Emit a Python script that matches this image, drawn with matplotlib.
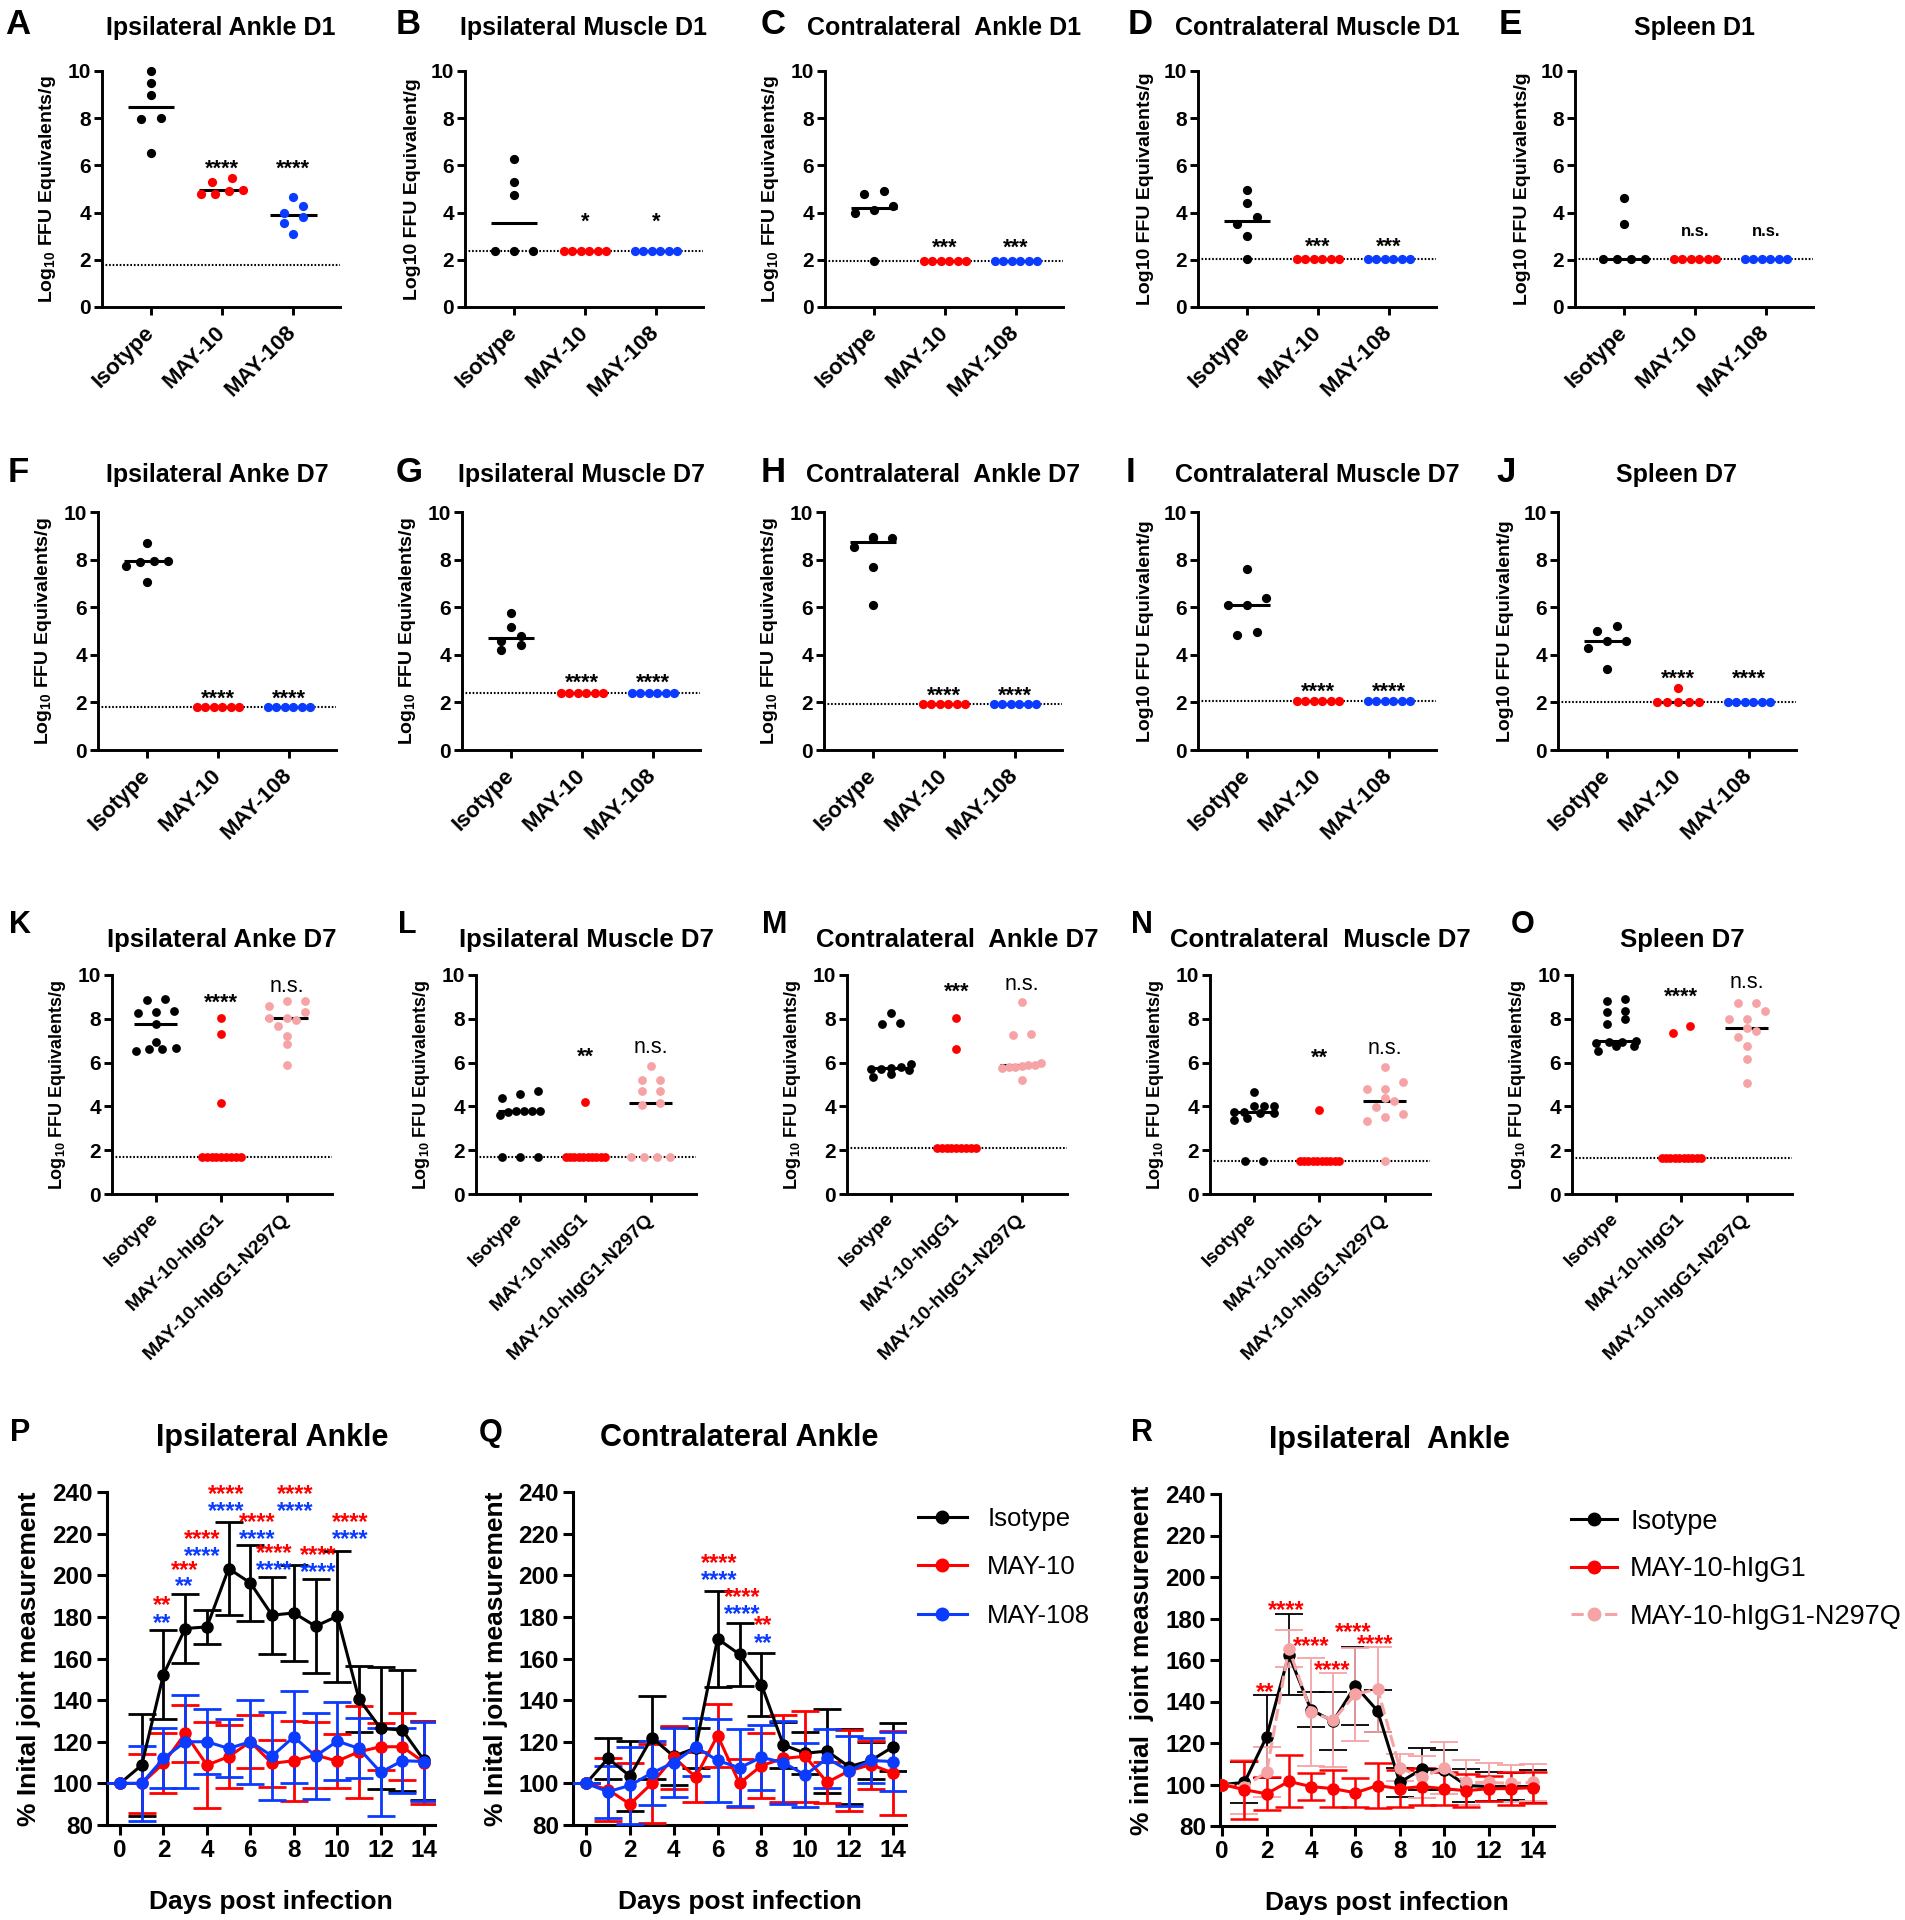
import numpy as np
import matplotlib
matplotlib.use("Agg")
import matplotlib.pyplot as plt
from matplotlib.lines import Line2D

plt.rcParams["font.family"] = ["Liberation Sans", "DejaVu Sans"]
plt.rcParams["mathtext.fontset"] = "custom"
plt.rcParams["mathtext.rm"] = "Liberation Sans:bold"
plt.rcParams["mathtext.bf"] = "Liberation Sans:bold"
plt.rcParams["mathtext.it"] = "Liberation Sans:bold"
plt.rcParams["mathtext.default"] = "bf"

W, H = 1905, 1920
BLACK, RED, BLUE, PINK = "#000000", "#FF0000", "#0A3BFF", "#F6A3A6"

# -----------------------------
# data: viral burden (log10 FFU eq / g)
# -----------------------------
groups_mab = ["Isotype", "MAY-10", "MAY-108"]
groups_fc = ["Isotype", "MAY-10-hIgG1", "MAY-10-hIgG1-N297Q"]

a_iso = [9.99, 9.49, 8.97, 8.01, 7.96, 6.54]
a_m10 = [5.31, 5.45, 4.96, 4.77, 4.77, 4.93]
a_m108 = [4.68, 4.30, 3.97, 3.83, 3.58, 3.08]
a_lod = 1.8

b_iso = [6.27, 5.28, 4.74, 2.37, 2.37, 2.37]
b_m10 = [2.37, 2.37, 2.37, 2.37, 2.37, 2.37]
b_m108 = [2.37, 2.37, 2.37, 2.37, 2.37, 2.37]
b_lod = 2.37

c_iso = [4.9, 4.8, 4.3, 4.1, 4.0, 1.95]
c_m10 = [1.95, 1.95, 1.95, 1.95, 1.95, 1.95]
c_m108 = [1.95, 1.95, 1.95, 1.95, 1.95, 1.95]
c_lod = 1.95

d_iso = [4.95, 4.4, 3.8, 3.5, 3.0, 2.05]
d_m10 = [2.05, 2.05, 2.05, 2.05, 2.05, 2.05]
d_m108 = [2.05, 2.05, 2.05, 2.05, 2.05, 2.05]
d_lod = 2.05

e_iso = [4.6, 3.5, 2.05, 2.05, 2.05, 2.05]
e_m10 = [2.05, 2.05, 2.05, 2.05, 2.05, 2.05]
e_m108 = [2.05, 2.05, 2.05, 2.05, 2.05, 2.05]
e_lod = 2.05

f_iso = [8.7, 7.95, 7.95, 7.9, 7.75, 7.05]
f_m10 = [1.8, 1.8, 1.8, 1.8, 1.8, 1.8]
f_m108 = [1.8, 1.8, 1.8, 1.8, 1.8, 1.8]
f_lod = 1.8

g_iso = [5.75, 5.15, 4.8, 4.6, 4.4, 4.2]
g_m10 = [2.4, 2.4, 2.4, 2.4, 2.4, 2.4]
g_m108 = [2.4, 2.4, 2.4, 2.4, 2.4, 2.4]
g_lod = 2.4

h_iso = [8.95, 8.9, 8.9, 8.55, 7.7, 6.1]
h_m10 = [1.95, 1.95, 1.95, 1.95, 1.95, 1.95]
h_m108 = [1.95, 1.95, 1.95, 1.95, 1.95, 1.95]
h_lod = 1.95

i_iso = [7.6, 6.4, 6.1, 6.1, 4.95, 4.85]
i_m10 = [2.05, 2.05, 2.05, 2.05, 2.05, 2.05]
i_m108 = [2.05, 2.05, 2.05, 2.05, 2.05, 2.05]
i_lod = 2.05

j_iso = [5.2, 5.0, 4.6, 4.6, 4.3, 3.4]
j_m10 = [2.6, 2.0, 2.0, 2.0, 2.0, 2.0]
j_m108 = [2.0, 2.0, 2.0, 2.0, 2.0, 2.0]
j_lod = 2.0

k_iso = [8.9, 8.85, 8.35, 8.3, 8.25, 7.75, 6.95, 6.65, 6.6, 6.6, 6.55]
k_hig = [8.05, 7.3, 4.15, 1.7, 1.7, 1.7, 1.7, 1.7, 1.7, 1.7, 1.7, 1.7]
k_n297q = [8.8, 8.8, 8.6, 8.3, 8.05, 8.05, 7.95, 7.65, 7.2, 6.85, 5.9]
k_lod = 1.7

l_iso = [4.7, 4.55, 4.4, 3.8, 3.8, 3.8, 3.8, 3.75, 3.6, 1.7, 1.7, 1.7]
l_hig = [4.2, 1.7, 1.7, 1.7, 1.7, 1.7, 1.7, 1.7, 1.7, 1.7, 1.7]
l_n297q = [5.85, 5.2, 5.2, 4.7, 4.7, 4.15, 4.05, 1.7, 1.7, 1.7, 1.7]
l_lod = 1.7

m_iso = [8.25, 7.8, 7.75, 5.95, 5.8, 5.75, 5.7, 5.7, 5.65, 5.5, 5.35]
m_hig = [8.05, 6.6, 2.1, 2.1, 2.1, 2.1, 2.1, 2.1, 2.1, 2.1, 2.1]
m_n297q = [8.75, 7.3, 7.25, 6.0, 5.9, 5.9, 5.85, 5.8, 5.8, 5.75, 5.2]
m_lod = 2.1

n_iso = [4.65, 4.0, 4.0, 4.0, 3.75, 3.75, 3.7, 3.7, 3.45, 3.4, 1.5, 1.5]
n_hig = [3.85, 1.5, 1.5, 1.5, 1.5, 1.5, 1.5, 1.5, 1.5, 1.5, 1.5]
n_n297q = [5.8, 5.1, 4.8, 4.8, 4.4, 4.25, 3.95, 3.65, 3.5, 3.35, 1.5]
n_lod = 1.5

o_iso = [8.9, 8.8, 8.35, 8.3, 8.0, 7.75, 7.0, 6.95, 6.95, 6.9, 6.75, 6.75, 6.55]
o_hig = [7.65, 7.35, 1.65, 1.65, 1.65, 1.65, 1.65, 1.65, 1.65, 1.65, 1.65, 1.65]
o_n297q = [8.7, 8.7, 8.35, 8.0, 8.0, 7.6, 7.45, 7.15, 6.75, 6.15, 5.05]
o_lod = 1.65

# significance labels and their heights (data units)
row1_sig = [["", "****", "****"], ["", "*", "*"], ["", "***", "***"],
            ["", "***", "***"], ["", "n.s.", "n.s."]]
row1_sig_y = [6.1, 3.85, 2.75, 2.8, 3.2]
row2_sig = [["", "****", "****"]] * 5
row2_sig_y = [2.4, 3.1, 2.55, 2.7, 3.25]
row3_sig = [["", "****", "n.s."], ["", "**", "n.s."], ["", "***", "n.s."],
            ["", "**", "n.s."], ["", "****", "n.s."]]
row3_sig_y = [[9.0, 9.5], [6.55, 6.7], [9.5, 9.6], [6.5, 6.65], [9.3, 9.65]]

# -----------------------------
# data: joint swelling (% of initial), mean and SD per day
# -----------------------------
days = [0, 1, 2, 3, 4, 5, 6, 7, 8, 9, 10, 11, 12, 13, 14]

p_iso_mean = [100, 108.8, 152.3, 174.4, 175.2, 203.2, 196.3, 180.8, 181.9, 175.5, 180.3, 140.5, 126.4, 125.6, 111]
p_iso_sd = [0, 24.5, 21.3, 16.8, 8.0, 22.4, 18.1, 18.4, 22.9, 22.6, 31.4, 16.0, 29.3, 29.1, 19]
p_m10_mean = [100, 100, 109.6, 124, 108.8, 112.8, 120, 109.6, 110.9, 113.6, 110.7, 115.2, 117.6, 117.6, 110]
p_m10_sd = [0, 14, 14.4, 13.6, 20.8, 15.2, 12.8, 11.2, 19.2, 16, 12.8, 22, 11.2, 16, 20]
p_m108_mean = [100, 100, 112, 120, 120, 116.8, 120, 113.1, 122.4, 113.1, 120.3, 116.8, 105.3, 110.9, 110.5]
p_m108_sd = [0, 18, 14.4, 22.4, 15.7, 13.9, 20.3, 21.3, 22.1, 20.5, 18.9, 14.4, 21.1, 15.5, 19]

q_iso_mean = [100, 112, 103.5, 122, 113, 117, 169.5, 162, 147.5, 118.5, 114.5, 115.5, 108, 111, 117.5]
q_iso_sd = [0, 10, 17, 20, 14, 9.5, 23, 15, 15, 11, 10, 20, 18, 9, 11.5]
q_m10_mean = [100, 97, 90, 100, 112.5, 103, 123, 100, 108.5, 112, 113, 100.5, 106, 109, 105]
q_m10_sd = [0, 15, 20, 19, 15, 12, 15, 11.5, 15.5, 21, 22, 10, 19.5, 11.5, 20]
q_m108_mean = [100, 96, 99, 105, 110, 117.5, 111, 107.5, 112.5, 110, 104, 112, 106, 111, 110.5]
q_m108_sd = [0, 12.5, 18.5, 15.5, 16.5, 14, 20, 18.5, 15.5, 20, 15.5, 14, 17, 11, 14]

r_iso_mean = [100, 101, 123, 162.5, 136, 130.5, 147.5, 135.5, 101, 107.5, 107, 99.5, 99, 99, 99]
r_iso_sd = [0, 10, 20, 19.5, 8.5, 14, 19, 10, 7, 10, 9.5, 8, 7, 6.5, 8]
r_hig_mean = [100, 97.5, 95.5, 101.5, 99, 98, 96, 99.5, 98, 99, 98, 97, 98, 98, 98.5]
r_hig_sd = [0, 14, 8, 12.5, 6.5, 9, 7, 11, 9, 9, 8, 8, 6, 8, 7.5]
r_n297q_mean = [100, 99, 106, 165.5, 135, 131, 143.5, 146, 108, 103.5, 108, 101, 101, 100.5, 101]
r_n297q_sd = [0, 13, 12, 9, 26, 22.5, 22.5, 20.5, 6.5, 10, 12.5, 11, 9.5, 9, 9]

p_sig_day = [1.95, 2.97, 3.8, 4.88, 6.3, 7.08, 8.08, 9.12, 10.6]
p_sig_red = ["**", "***", "****", "****", "****", "****", "****", "****", "****"]
p_sig_red_y = [188.5, 205.6, 220.3, 242, 228.5, 213.6, 242, 212.5, 228.5]
p_sig_blue = ["**", "**", "****", "****", "****", "****", "****", "****", "****"]
p_sig_blue_y = [180, 197.6, 212.3, 233.9, 220.5, 205.6, 233.9, 204.5, 220.3]

q_sig_day = [6.07, 7.1, 8.06]
q_sig = ["****", "****", "**"]
q_sig_red_y = [208.7, 192.5, 178.9]
q_sig_blue_y = [200.8, 184.5, 170.6]

r_sig_day = [1.93, 2.9, 4.0, 4.95, 5.9, 6.9]
r_sig = ["**", "****", "****", "****", "****", "****"]
r_sig_y = [147.5, 187, 169.6, 158.4, 176.4, 170.9]

# -----------------------------
# helpers
# -----------------------------
fig = plt.figure(figsize=(W / 100, H / 100), dpi=100)


def px_axes(x0, x1, top, bottom):
    return fig.add_axes([x0 / W, 1 - bottom / H, (x1 - x0) / W, (bottom - top) / H])


def px_text(x, y, s, **kw):
    fig.text(x / W, 1 - y / H, s, **kw)


def swarm_offsets(vals, tol=0.35, step=0.27, span=0.6):
    vals = np.asarray(vals, float)
    order = np.argsort(vals, kind="stable")
    offs = np.zeros(len(vals))
    i = 0
    while i < len(order):
        j = i
        while j + 1 < len(order) and vals[order[j + 1]] - vals[order[i]] < tol:
            j += 1
        idx = order[i:j + 1]
        n = len(idx)
        if n > 1:
            d = min(step, span / (n - 1))
            offs[idx] = (np.arange(n) - (n - 1) / 2) * d
        i = j + 1
    return offs


def sig_text(ax, x, y, s, color, fs, weight="bold"):
    off = 0.56 if "*" in s else 0.27
    ax.annotate(s, (x, y), xytext=(0, -off * fs), textcoords="offset points",
                ha="center", va="baseline", fontsize=fs, fontweight=weight,
                color=color, annotation_clip=False)


def base_style(ax, lw=2.1):
    for s in ["top", "right"]:
        ax.spines[s].set_visible(False)
    for s in ["left", "bottom"]:
        ax.spines[s].set_linewidth(lw)
    ax.tick_params(width=lw, length=6, pad=3)


def dot_panel(ax, vals_list, colors, groups, lod, xlim, s, ytick_fs, xtick_fs, ylab, ylab_fs):
    for k, (vals, c) in enumerate(zip(vals_list, colors)):
        offs = swarm_offsets(vals)
        ax.scatter(k + offs, vals, s=s, color=c, linewidths=0, zorder=3, clip_on=False)
        med = np.median(vals)
        ax.plot([k - 0.33, k + 0.33], [med, med], color="black", lw=2.2,
                zorder=2, solid_capstyle="butt")
    ax.axhline(lod, color="black", lw=1.5, ls=(0, (0.8, 0.9)), zorder=1)
    ax.set_xlim(*xlim)
    ax.set_ylim(0, 10)
    base_style(ax)
    yt = [0, 2, 4, 6, 8, 10]
    ax.set_yticks(yt, [str(v) for v in yt], fontsize=ytick_fs, fontweight="bold")
    ax.set_xticks(range(len(groups)), groups, rotation=45, ha="right", va="center",
                  rotation_mode="anchor", fontsize=xtick_fs, fontweight="bold")
    ax.tick_params(axis="x", pad=10)
    ax.tick_params(axis="y", pad=2)
    ax.set_ylabel(ylab, fontsize=ylab_fs, fontweight="bold", labelpad=7)


YL_SUB = r"Log$_{10}$ FFU Equivalents/g"
YL_10S = "Log10 FFU Equivalents/g"
YL_10 = "Log10 FFU Equivalent/g"

# -----------------------------
# rows 1 and 2 (isotype / MAY-10 / MAY-108)
# -----------------------------
row1 = [
    ("A", "Ipsilateral Ankle D1", YL_SUB, [a_iso, a_m10, a_m108], a_lod),
    ("B", "Ipsilateral Muscle D1", YL_10, [b_iso, b_m10, b_m108], b_lod),
    ("C", "Contralateral  Ankle D1", YL_SUB, [c_iso, c_m10, c_m108], c_lod),
    ("D", "Contralateral Muscle D1", YL_10S, [d_iso, d_m10, d_m108], d_lod),
    ("E", "Spleen D1", YL_10S, [e_iso, e_m10, e_m108], e_lod),
]
row2 = [
    ("F", "Ipsilateral Anke D7", YL_SUB, [f_iso, f_m10, f_m108], f_lod),
    ("G", "Ipsilateral Muscle D7", YL_SUB, [g_iso, g_m10, g_m108], g_lod),
    ("H", "Contralateral  Ankle D7", YL_SUB, [h_iso, h_m10, h_m108], h_lod),
    ("I", "Contralateral Muscle D7", YL_10, [i_iso, i_m10, i_m108], i_lod),
    ("J", "Spleen D7", YL_10, [j_iso, j_m10, j_m108], j_lod),
]
row1_x = [102, 465, 825, 1198, 1575]
row1_letter_x = [18, 408, 773, 1140, 1510]
row2_x = [98, 462, 824, 1198, 1558]
row2_letter_x = [18, 409, 773, 1131, 1506]

for row, xs, lxs, top, bot, ty, sigs, sig_ys in [
        (row1, row1_x, row1_letter_x, 71, 307, 28, row1_sig, row1_sig_y),
        (row2, row2_x, row2_letter_x, 512, 750, 475, row2_sig, row2_sig_y)]:
    for (letter, title, ylab, vals, lod), x0, lx, sg, sy in zip(row, xs, lxs, sigs, sig_ys):
        ax = px_axes(x0, x0 + 238, top, bot)
        dot_panel(ax, vals, [BLACK, RED, BLUE], groups_mab, lod, (-0.69, 2.66),
                  44, 15, 16, ylab, 14)
        for k in (1, 2):
            if sg[k]:
                if sg[k] == "n.s.":
                    sig_text(ax, k, sy, sg[k], BLACK, 12)
                else:
                    sig_text(ax, k, sy, sg[k], BLACK, 15.5)
        px_text(x0 + 119, ty, title, ha="center", va="center", fontsize=18, fontweight="bold")
        px_text(lx, ty - 3, letter, ha="center", va="center", fontsize=25, fontweight="bold")

# -----------------------------
# row 3 (Fc variants)
# -----------------------------
row3 = [
    ("K", "Ipsilateral Anke D7", [k_iso, k_hig, k_n297q], k_lod),
    ("L", "Ipsilateral Muscle D7", [l_iso, l_hig, l_n297q], l_lod),
    ("M", "Contralateral  Ankle D7", [m_iso, m_hig, m_n297q], m_lod),
    ("N", "Contralateral  Muscle D7", [n_iso, n_hig, n_n297q], n_lod),
    ("O", "Spleen D7", [o_iso, o_hig, o_n297q], o_lod),
]
row3_x = [112, 476, 847, 1210, 1572]
row3_letter_x = [20, 407, 775, 1142, 1523]

for (letter, title, vals, lod), x0, lx, sg, sy in zip(row3, row3_x, row3_letter_x, row3_sig, row3_sig_y):
    ax = px_axes(x0, x0 + 220, 975, 1194)
    dot_panel(ax, vals, [BLACK, RED, PINK], groups_fc, lod, (-0.67, 2.69),
              40, 15, 14, YL_SUB, 13)
    sig_text(ax, 1, sy[0], sg[1], BLACK, 15.5)
    sig_text(ax, 2, sy[1], sg[2], BLACK, 15.5, weight="normal")
    px_text(x0 + 110, 940, title, ha="center", va="center", fontsize=18.5, fontweight="bold")
    px_text(lx, 925, letter, ha="center", va="center", fontsize=22, fontweight="bold")

# -----------------------------
# row 4 (joint swelling time courses)
# -----------------------------


def course_panel(ax, series, xlim, ylab):
    for mean, sd, c, ls, elw, ms in series:
        ax.errorbar(days, mean, yerr=sd, color=c, ls=ls, lw=2.2, marker="o", ms=ms,
                    elinewidth=elw, capsize=10, capthick=elw, zorder=3)
    ax.set_xlim(*xlim)
    ax.set_ylim(80, 240)
    base_style(ax, lw=2.2)
    ax.tick_params(length=7)
    yt = list(range(80, 241, 20))
    ax.set_yticks(yt, [str(v) for v in yt], fontsize=17.5, fontweight="bold")
    xt = list(range(0, 15, 2))
    ax.set_xticks(xt, [str(v) for v in xt], fontsize=17.5, fontweight="bold")
    ax.set_ylabel(ylab, fontsize=19, fontweight="bold", labelpad=8)
    ax.set_xlabel("Days post infection", fontsize=19, fontweight="bold", labelpad=20)


axP = px_axes(107, 435, 1492, 1825)
course_panel(axP, [(p_iso_mean, p_iso_sd, BLACK, "-", 2.0, 8),
                   (p_m10_mean, p_m10_sd, RED, "-", 2.0, 8),
                   (p_m108_mean, p_m108_sd, BLUE, "-", 2.0, 8)],
             (-0.6, 14.5), "% Inital joint measurement")
for d, s, y in zip(p_sig_day, p_sig_red, p_sig_red_y):
    sig_text(axP, d, y, s, RED, 17)
for d, s, y in zip(p_sig_day, p_sig_blue, p_sig_blue_y):
    sig_text(axP, d, y, s, BLUE, 17)

axQ = px_axes(573, 906, 1492, 1825)
course_panel(axQ, [(q_iso_mean, q_iso_sd, BLACK, "-", 2.0, 8),
                   (q_m10_mean, q_m10_sd, RED, "-", 2.0, 8),
                   (q_m108_mean, q_m108_sd, BLUE, "-", 2.0, 8)],
             (-0.6, 14.6), "% Inital joint measurement")
for d, s, y in zip(q_sig_day, q_sig, q_sig_red_y):
    sig_text(axQ, d, y, s, RED, 17)
for d, s, y in zip(q_sig_day, q_sig, q_sig_blue_y):
    sig_text(axQ, d, y, s, BLUE, 17)

axR = px_axes(1220, 1554, 1494, 1826)
course_panel(axR, [(r_iso_mean, r_iso_sd, BLACK, "-", 1.3, 8),
                   (r_n297q_mean, r_n297q_sd, PINK, (0, (4, 1.5)), 1.3, 8),
                   (r_hig_mean, r_hig_sd, RED, "-", 1.8, 8)],
             (-0.1, 14.95), "% initial  joint measurement")
for d, s, y in zip(r_sig_day, r_sig, r_sig_y):
    sig_text(axR, d, y, s, RED, 17)

px_text(272, 1438, "Ipsilateral Ankle", ha="center", va="center", fontsize=22, fontweight="bold")
px_text(739, 1438, "Contralateral Ankle", ha="center", va="center", fontsize=22, fontweight="bold")
px_text(1389, 1440, "Ipsilateral  Ankle", ha="center", va="center", fontsize=22, fontweight="bold")
px_text(20, 1433, "P", ha="center", va="center", fontsize=22, fontweight="bold")
px_text(491, 1433, "Q", ha="center", va="center", fontsize=22, fontweight="bold")
px_text(1142, 1433, "R", ha="center", va="center", fontsize=22, fontweight="bold")

# legends
h_q = [Line2D([], [], color=c, marker="o", ms=9, lw=2.2) for c in (BLACK, RED, BLUE)]
fig.legend(h_q, groups_mab, loc="upper left", bbox_to_anchor=(905 / W, 1 - 1494 / H),
           frameon=False, fontsize=18.5, handlelength=1.9, handletextpad=0.8,
           labelspacing=0.95, borderpad=0)
h_r = [Line2D([], [], color=BLACK, marker="o", ms=9, lw=2.2),
       Line2D([], [], color=RED, marker="o", ms=9, lw=2.2),
       Line2D([], [], color=PINK, marker="o", ms=9, lw=2.2, ls=(0, (4, 1.5)))]
fig.legend(h_r, groups_fc, loc="upper left", bbox_to_anchor=(1557 / W, 1 - 1495 / H),
           frameon=False, fontsize=19.5, handlelength=1.7, handletextpad=0.5,
           labelspacing=0.8, borderpad=0)

fig.savefig("out.png", dpi=100)
